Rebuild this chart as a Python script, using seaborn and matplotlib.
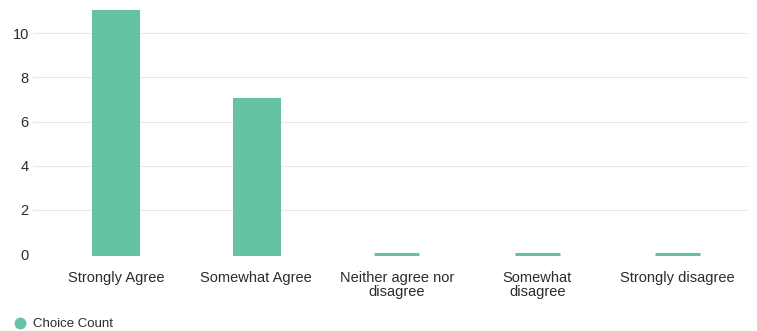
import matplotlib
matplotlib.use("Agg")
import matplotlib.pyplot as plt
from matplotlib.lines import Line2D
import seaborn as sns
import pandas as pd

categories = ["Strongly Agree", "Somewhat Agree", "Neither agree nor disagree",
              "Somewhat disagree", "Strongly disagree"]
tick_labels = ["Strongly Agree", "Somewhat Agree", "Neither agree nor\ndisagree",
               "Somewhat\ndisagree", "Strongly disagree"]
choice_count = [11, 7, 0, 0, 0]
series_name = "Choice Count"
y_ticks = [0, 2, 4, 6, 8, 10]

bar_color = "#66c2a5"
text_color = "#2b2b2b"

sns.set_theme(style="white")
plt.rcParams["font.family"] = ["Liberation Sans", "DejaVu Sans"]

df = pd.DataFrame({"category": categories, "count": choice_count})

fig = plt.figure(figsize=(7.57, 3.31), dpi=100)
ax = fig.add_axes([0.0436, 0.2326, 0.9445, 0.767])

sns.barplot(data=df, x="category", y="count", order=categories, color=bar_color,
            saturation=1, width=0.32, edgecolor=bar_color, linewidth=2.2, ax=ax)
# let the outline of empty bars show as a small stub on the baseline
for patch in ax.patches:
    patch.set_clip_on(False)

ax.set_xlim(-0.59, 4.5)
ax.set_ylim(0, 11.5)
ax.set_yticks(y_ticks)
ax.set_yticklabels([str(v) for v in y_ticks], fontsize=10.5, color=text_color)
ax.set_xticks(range(len(categories)))
ax.set_xticklabels(tick_labels, fontsize=10.5, color=text_color, linespacing=1.05)
ax.set_xlabel("")
ax.set_ylabel("")
ax.yaxis.grid(True, color="#e8e8e8", linewidth=0.8)
ax.set_axisbelow(True)
ax.tick_params(axis="both", length=0)
ax.tick_params(axis="x", pad=12)
ax.tick_params(axis="y", pad=3)
for s in ax.spines.values():
    s.set_visible(False)

handle = Line2D([], [], marker="o", linestyle="none", markersize=7.5,
                markerfacecolor=bar_color, markeredgecolor=bar_color)
fig.legend([handle], [series_name], loc="lower left", bbox_to_anchor=(0.0, -0.034),
           frameon=False, fontsize=9.5, handletextpad=0.4, handlelength=1.2,
           labelcolor=text_color)

fig.savefig("out.png", dpi=100)
